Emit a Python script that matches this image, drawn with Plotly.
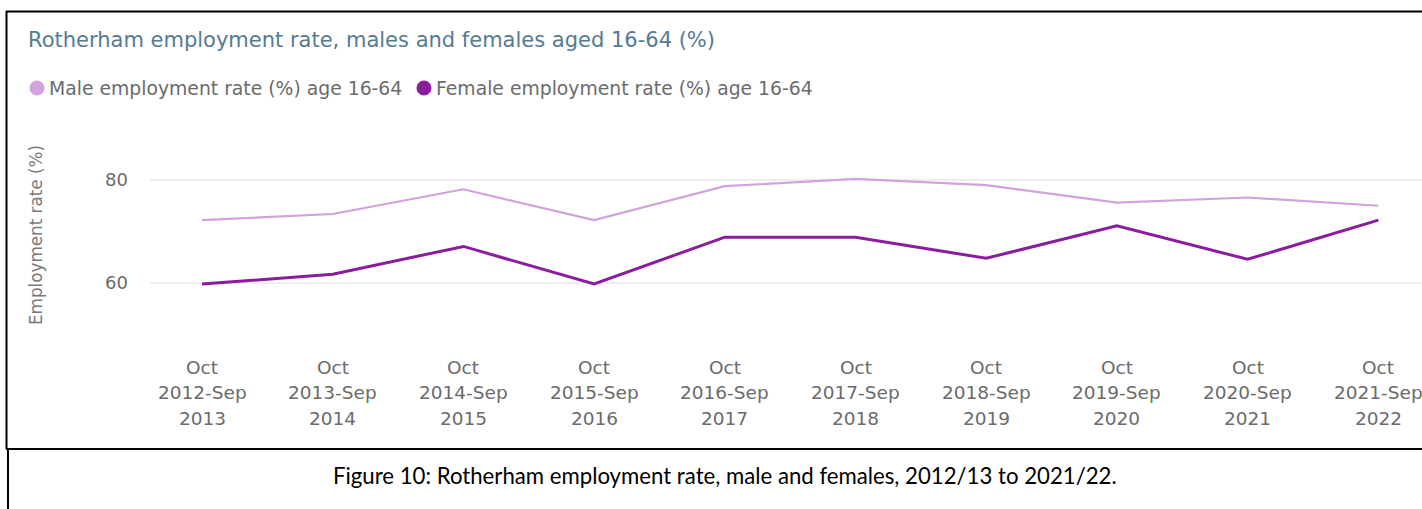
import plotly.graph_objects as go

# Reporting periods (12-month rolling, October to September)
periods = [
    "Oct 2012-Sep 2013", "Oct 2013-Sep 2014", "Oct 2014-Sep 2015",
    "Oct 2015-Sep 2016", "Oct 2016-Sep 2017", "Oct 2017-Sep 2018",
    "Oct 2018-Sep 2019", "Oct 2019-Sep 2020", "Oct 2020-Sep 2021",
    "Oct 2021-Sep 2022",
]
male_rate = [72.2, 73.4, 78.2, 72.2, 78.8, 80.2, 79.0, 75.6, 76.6, 75.0]
female_rate = [59.8, 61.7, 67.1, 59.8, 68.9, 68.9, 64.8, 71.1, 64.6, 72.2]

male_name = "Male employment rate (%) age 16-64"
female_name = "Female employment rate (%) age 16-64"
male_colour = "#D2A2DC"
female_colour = "#8A1C9E"

W, H = 1422, 509
FONT = "DejaVu Sans"
GREY = "#6b6b6b"


def px(x):
    return x / W


def py(y):
    return 1 - y / H


fig = go.Figure()
fig.add_trace(go.Scatter(x=periods, y=male_rate, mode="lines", name=male_name,
                         line=dict(color=male_colour, width=2.2), showlegend=False))
fig.add_trace(go.Scatter(x=periods, y=female_rate, mode="lines", name=female_name,
                         line=dict(color=female_colour, width=3), showlegend=False))

annotations = []
# Multi-line category labels under the axis
for p in periods:
    month, middle, year = p.split(" ")
    for text, yy in ((month, 367), (middle, 392), (year, 418)):
        annotations.append(dict(x=p, xref="x", y=py(yy), yref="paper", text=text,
                                showarrow=False, xanchor="center", yanchor="middle",
                                font=dict(family=FONT, size=18.5, color=GREY)))

# Legend row: coloured dot + label
shapes = []
legend_items = [(male_name, male_colour, 37), (female_name, female_colour, 424)]
for name, colour, cx in legend_items:
    shapes.append(dict(type="circle", xref="paper", yref="paper",
                       xsizemode="pixel", ysizemode="pixel",
                       xanchor=px(cx), yanchor=py(88),
                       x0=-7.5, x1=7.5, y0=-7.5, y1=7.5,
                       fillcolor=colour, line=dict(width=0)))
    annotations.append(dict(x=px(cx + 10), xref="paper", y=py(88), yref="paper",
                            text=name, showarrow=False, xanchor="left", yanchor="middle",
                            font=dict(family=FONT, size=18.8, color=GREY)))

# Caption beneath the chart
annotations.append(dict(x=px(725), xref="paper", y=py(475), yref="paper",
                        text="Figure 10: Rotherham employment rate, male and females, 2012/13 to 2021/22.",
                        showarrow=False, xanchor="center", yanchor="middle",
                        font=dict(family="Lato", size=22.2, color="#000000")))

# Frame lines around the chart and caption
frame = dict(color="#000000", width=2)
shapes += [
    dict(type="line", xref="paper", yref="paper", x0=px(6), x1=1, y0=py(11.5), y1=py(11.5), line=frame),
    dict(type="line", xref="paper", yref="paper", x0=px(6.5), x1=px(6.5), y0=py(11), y1=py(449), line=frame),
    dict(type="line", xref="paper", yref="paper", x0=px(6), x1=1, y0=py(449), y1=py(449), line=frame),
    dict(type="line", xref="paper", yref="paper", x0=px(8), x1=px(8), y0=py(449), y1=0, line=frame),
]

fig.update_layout(
    width=W, height=H, autosize=False,
    margin=dict(l=0, r=0, t=0, b=0),
    paper_bgcolor="white", plot_bgcolor="white",
    title=dict(text="Rotherham employment rate, males and females aged 16-64 (%)",
               x=px(28), xref="container", xanchor="left",
               y=py(40), yref="container", yanchor="middle",
               font=dict(family=FONT, size=21, color="#557B93")),
    xaxis=dict(type="category", domain=[px(150), 1], range=[-0.398, 9.334],
               showticklabels=False, showgrid=False, zeroline=False, showline=False),
    yaxis=dict(domain=[py(340), py(130)], range=[48.93, 89.71],
               tick0=0, dtick=20, showgrid=True, gridcolor="#EEEEEE", gridwidth=2,
               zeroline=False, showline=False, ticklabelstandoff=21,
               tickfont=dict(family=FONT, size=18, color=GREY),
               title=dict(text="Employment rate (%)", standoff=58,
                          font=dict(family=FONT, size=16.8, color="#7a7a7a"))),
    annotations=annotations,
    shapes=shapes,
    showlegend=False,
)

fig.write_html("out.html")
